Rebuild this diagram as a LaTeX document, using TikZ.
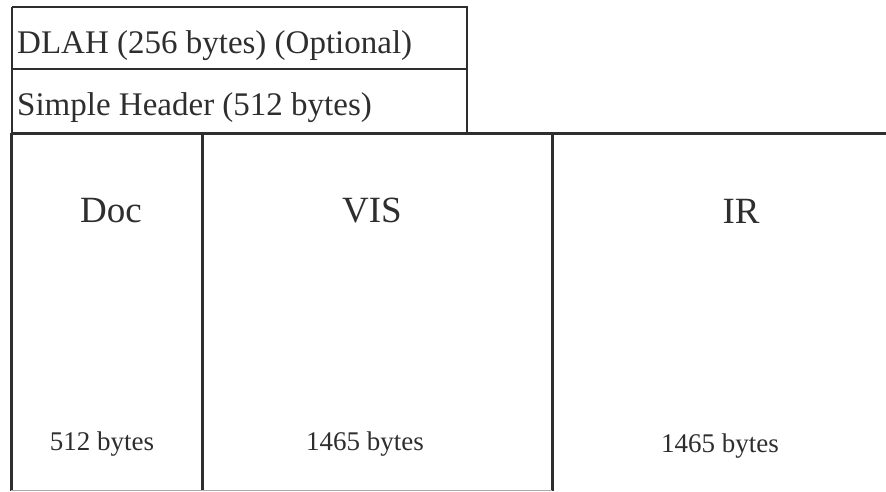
\documentclass[tikz,border=0pt]{standalone}
\usepackage{fontspec}
\setmainfont{Liberation Serif}
\definecolor{ink}{HTML}{2E2E2E}
\definecolor{edge}{HTML}{AAAAAA}
\begin{document}
\begin{tikzpicture}[x=1pt,y=-1pt,
  hdrline/.style={draw=ink,line width=2.6pt},
  colline/.style={draw=ink,line width=3pt},
  hdrtext/.style={anchor=base west,inner sep=0pt,font=\fontsize{33}{38}\selectfont,text=ink},
  titletext/.style={anchor=base,inner sep=0pt,font=\fontsize{37}{42}\selectfont,text=ink},
  sizetext/.style={anchor=base,inner sep=0pt,font=\fontsize{27}{31}\selectfont,text=ink}]
\useasboundingbox (0,0) rectangle (886,491);
% header rows
\coordinate (htl) at (12,7);
\coordinate (htr) at (467,7);
\coordinate (hml) at (12,69);
\coordinate (hmr) at (467,69);
\coordinate (hbr) at (467,132);
\draw[hdrline] (htl) -- (htr) -- (hbr);
\draw[hdrline] (hml) -- (hmr);
\draw[hdrline] (htl) -- (12,132);
\node[hdrtext] (dlah) at (17,53) {DLAH (256 bytes) (Optional)};
\node[hdrtext] (simple) at (17,115) {Simple Header (512 bytes)};
% columns
\coordinate (ctl) at (11,133);
\coordinate (ctr) at (886,133);
\coordinate (c1t) at (202,133);
\coordinate (c2t) at (552,133);
\coordinate (cbl) at (11,491);
\coordinate (c1b) at (202,491);
\coordinate (c2b) at (552,491);
\draw[colline] (ctl) -- (ctr);
\draw[colline] (ctl) -- (cbl);
\draw[colline] (c1t) -- (c1b);
\draw[colline] (c2t) -- (c2b);
\draw[draw=edge,line width=1pt] (11,490) -- (552,490);
\node[titletext] (doc) at (111,222) {Doc};
\node[titletext] (vis) at (372,222) {VIS};
\node[titletext] (ir) at (741,223) {IR};
\node[sizetext] (docsz) at (102,450) {512 bytes};
\node[sizetext] (vissz) at (365,450) {1465 bytes};
\node[sizetext] (irsz) at (720,452) {1465 bytes};
\end{tikzpicture}
\end{document}
